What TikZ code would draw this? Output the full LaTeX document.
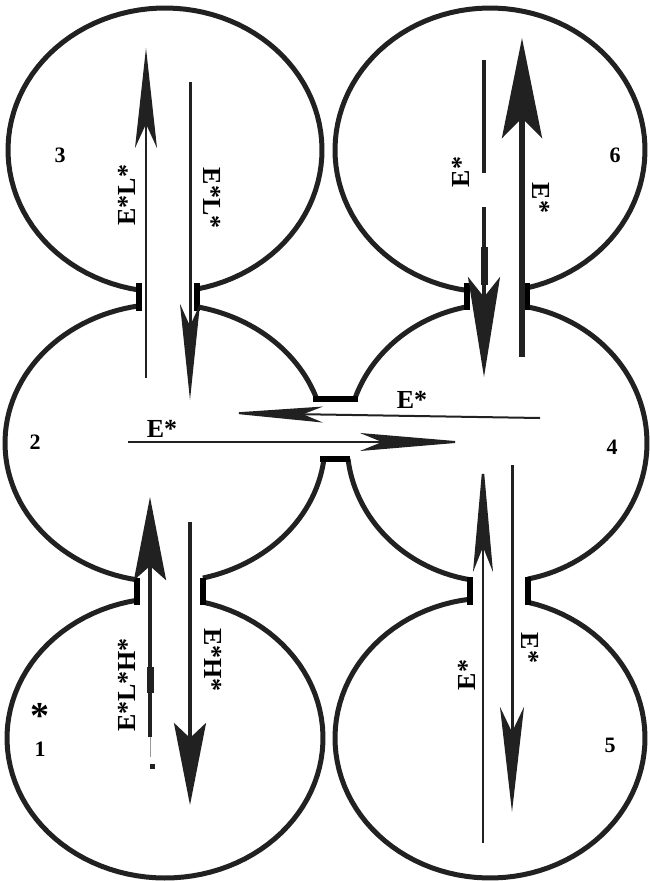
\documentclass[tikz,border=0pt]{standalone}
\usepackage{fontspec}
\setmainfont{Liberation Serif}
\usetikzlibrary{arrows.meta}
\tikzset{
    wall/.style={line width=5pt, draw=black!87},
    lip/.style={line width=6pt, draw=black},
    flow/.style={draw=black!87},
    barb/.style n args={3}{-{Stealth[length=#1, width=#2, inset=#3]}},
    tag/.style={font=\fontsize{26}{26}\selectfont\bfseries, inner sep=0pt},
    num/.style={font=\fontsize{22}{22}\selectfont\bfseries, inner sep=0pt}
}

\begin{document}
\begin{tikzpicture}[x=1pt, y=-1pt]
    \useasboundingbox (0,0) rectangle (650,881);

    % Cells 3 and 6
    \draw[wall] plot[domain=99.5:438.2, samples=100] ({165+157*cos(\x)}, {150+142*sin(\x)});
    \draw[wall] plot[domain=98.5:436.2, samples=100] ({490+155*cos(\x)}, {150+142*sin(\x)});

    % Cell 2
    \draw[wall] plot[domain=281.5:341.6, samples=30] ({165+160*cos(\x)}, {443+139*sin(\x)});
    \draw[wall] plot[domain=6.6:76.3, samples=30] ({165+160*cos(\x)}, {443+139*sin(\x)});
    \draw[wall] plot[domain=100.1:260.7, samples=60] ({165+160*cos(\x)}, {443+139*sin(\x)});

    % Cell 4
    \draw[wall] plot[domain=281.5:438.1, samples=60] ({497+150*cos(\x)}, {443+139*sin(\x)});
    \draw[wall] plot[domain=100.4:173.4, samples=30] ({497+150*cos(\x)}, {443+139*sin(\x)});
    \draw[wall] plot[domain=198.5:258.5, samples=30] ({497+150*cos(\x)}, {443+139*sin(\x)});

    % Cells 1 and 5
    \draw[wall] plot[domain=283.9:619.8, samples=100] ({165+158*cos(\x)}, {738+140*sin(\x)});
    \draw[wall] plot[domain=284.2:622.6, samples=100] ({490+155*cos(\x)}, {738+140*sin(\x)});

    % Necks
    \draw[lip] (139,283) -- (139,311);
    \draw[lip] (197,283) -- (197,311);
    \draw[lip] (137,578) -- (137,605);
    \draw[lip] (203,578) -- (203,605);
    \draw[lip] (467,283) -- (467,310);
    \draw[lip] (527,283) -- (527,310);
    \draw[lip] (470,577) -- (470,605);
    \draw[lip] (528,577) -- (528,605);
    \draw[lip] (313,399) -- (358,399);
    \draw[lip] (320,459) -- (350,459);

    % Cell numbers
    \node[num] (n3) at (60,155) {3};
    \node[num] (n6) at (615,155) {6};
    \node[num] (n2) at (35,442) {2};
    \node[num] (n4) at (612,447) {4};
    \node[num] (n1) at (40,749) {1};
    \node[num] (n5) at (610,745) {5};
    \node[font=\fontsize{38}{38}\selectfont\bfseries, inner sep=0pt, anchor=base] (star) at (40,728) {*};

    % Flow 3 <-> 2
    \coordinate (up3a) at (146,378);
    \coordinate (up3b) at (146,48);
    \coordinate (dn3a) at (190,82);
    \coordinate (dn3b) at (190,400);
    \draw[flow, line width=2.5pt, barb={100pt}{22pt}{24pt}] (up3a) -- (up3b);
    \draw[flow, line width=3pt, barb={96pt}{20pt}{22pt}] (dn3a) -- (dn3b);
    \node[tag, rotate=90] (l3a) at (127,195) {E*L*};
    \node[tag, rotate=-90] (l3b) at (212,198) {E*L*};

    % Flow 6 <-> 4
    \coordinate (dn6a) at (484,60);
    \coordinate (dn6b) at (484,173);
    \coordinate (dn6c) at (484,207);
    \coordinate (dn6d) at (484,377);
    \coordinate (dn6e) at (484,247);
    \coordinate (dn6f) at (484,285);
    \coordinate (up6a) at (522,357);
    \coordinate (up6b) at (522,38);
    \draw[flow, line width=4pt] (dn6a) -- (dn6b);
    \draw[flow, line width=4pt, barb={100pt}{32pt}{20pt}] (dn6c) -- (dn6d);
    \draw[flow, line width=7pt] (dn6e) -- (dn6f);
    \draw[flow, line width=6pt, barb={100pt}{40pt}{20pt}] (up6a) -- (up6b);
    \node[tag, rotate=90] (l6a) at (461,172) {E*};
    \node[tag, rotate=-90] (l6b) at (541,198) {E*};

    % Flow 2 <-> 4
    \coordinate (lf4a) at (540,418);
    \coordinate (lf4b) at (227,413);
    \coordinate (rt2a) at (128,442);
    \coordinate (rt2b) at (467,442);
    \draw[flow, line width=2pt, barb={96pt}{16pt}{20pt}] (lf4a) -- (lf4b);
    \draw[flow, line width=2pt, barb={107pt}{18pt}{22pt}] (rt2a) -- (rt2b);
    \node[tag] (l4) at (412,400) {E*};
    \node[tag] (l2) at (162,429) {E*};

    % Flow 1 <-> 2
    \coordinate (up1a) at (150,737);
    \coordinate (up1b) at (150,497);
    \coordinate (up1c) at (150,667);
    \coordinate (up1d) at (150,693);
    \coordinate (up1e) at (150,757);
    \coordinate (dn1a) at (190,522);
    \coordinate (dn1b) at (190,805);
    \draw[flow, line width=4pt, barb={83pt}{32pt}{14pt}] (up1a) -- (up1b);
    \draw[flow, line width=7pt] (up1c) -- (up1d);
    \draw[black!40, line width=.6pt] (up1a) -- (up1e);
    \node[fill=black!87, minimum size=5pt, inner sep=0pt] (dot1) at (152,766) {};
    \draw[flow, line width=3.5pt, barb={82pt}{32pt}{15pt}] (dn1a) -- (dn1b);
    \node[tag, rotate=90] (l1a) at (127,685) {E*L*H*};
    \node[tag, rotate=-90] (l1b) at (213,660) {E*H*};

    % Flow 5 <-> 4
    \coordinate (up5a) at (483,843);
    \coordinate (up5b) at (483,460);
    \coordinate (dn5a) at (512,465);
    \coordinate (dn5b) at (512,812);
    \draw[flow, line width=2.5pt, barb={112pt}{20pt}{25pt}] (up5a) -- (up5b);
    \draw[flow, line width=3pt, barb={105pt}{24pt}{25pt}] (dn5a) -- (dn5b);
    \node[tag, rotate=90] (l5a) at (467,675) {E*};
    \node[tag, rotate=-90] (l5b) at (530,648) {E*};

\end{tikzpicture}
\end{document}
